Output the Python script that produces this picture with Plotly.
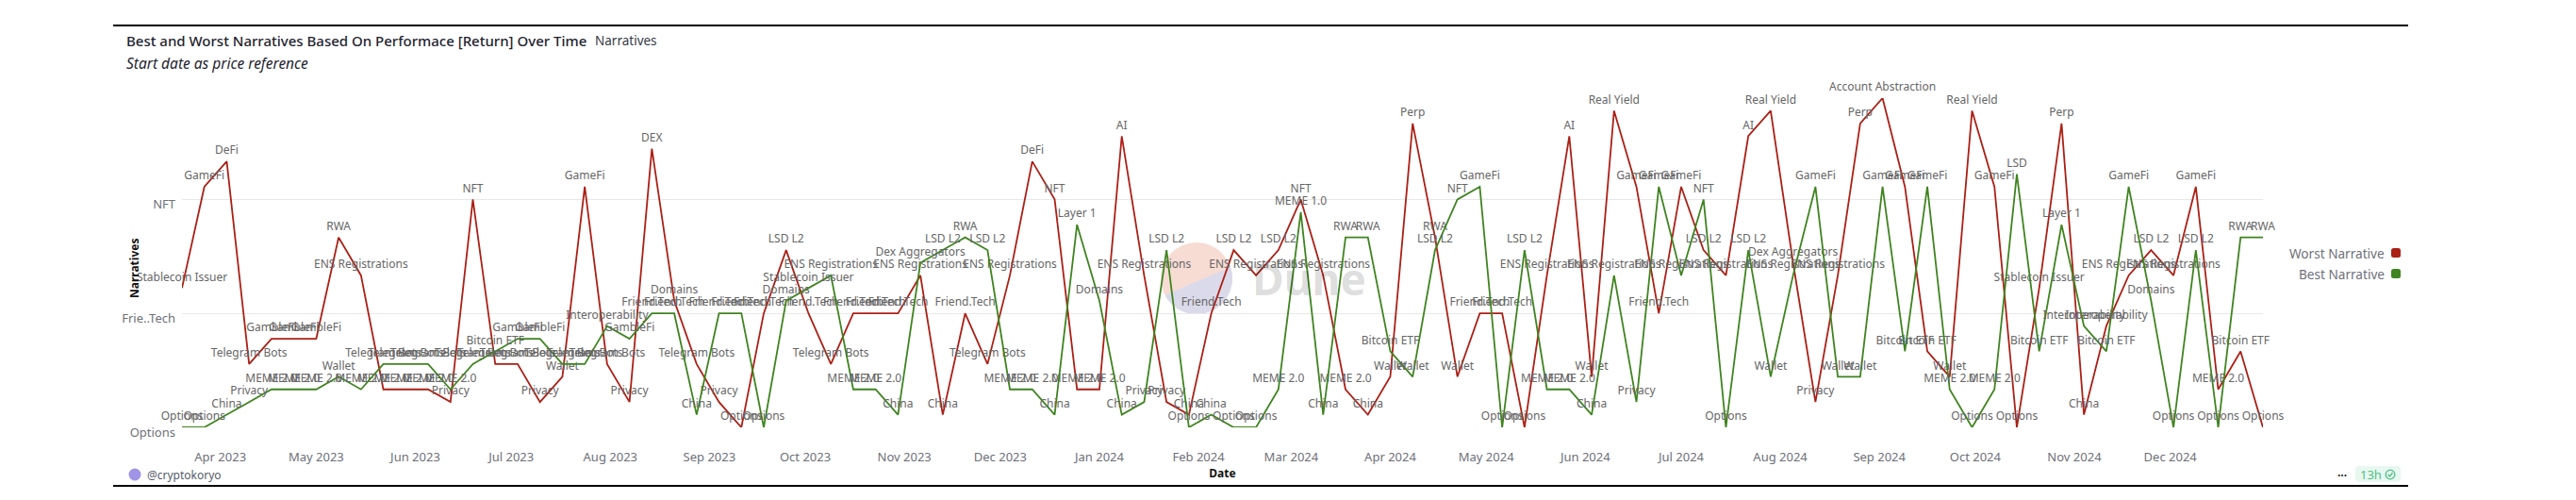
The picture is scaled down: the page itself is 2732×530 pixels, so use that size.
import math
import pandas as pd
import plotly.graph_objects as go

W, H = 2732, 530
L, R, T, B = 193, 2400, 104, 453

title_main = "Best and Worst Narratives Based On Performace [Return] Over Time"
title_tag = "Narratives"
subtitle = "Start date as price reference"
start_date = "2023-03-20"

narrative_order = [
    "Options", "China", "Privacy", "MEME 2.0", "Wallet", "Telegram Bots", "Bitcoin ETF",
    "GambleFi", "Interoperability", "Friend.Tech", "Domains", "Stablecoin Issuer",
    "ENS Registrations", "Dex Aggregators", "LSD L2", "RWA", "Layer 1", "MEME 1.0",
    "NFT", "GameFi", "LSD", "DeFi", "DEX", "AI", "Perp", "Real Yield", "Account Abstraction",
]
y_tick_values = ["Options", "Friend.Tech", "NFT"]
y_tick_text = ["Options", "Frie..Tech", "NFT"]

worst_narrative = [
    "Stablecoin Issuer", "GameFi", "DeFi", "Telegram Bots", "GambleFi", "GambleFi", "GambleFi", "RWA",
    "ENS Registrations", "MEME 2.0", "MEME 2.0", "MEME 2.0", "Privacy", "NFT", "Telegram Bots",
    "Telegram Bots", "Privacy", "Wallet", "GameFi", "Telegram Bots", "Privacy", "DEX", "Domains",
    "Telegram Bots", "Privacy", "Options", "Friend.Tech", "LSD L2", "Friend.Tech", "Telegram Bots",
    "Friend.Tech", "Friend.Tech", "Friend.Tech", "ENS Registrations", "China", "Friend.Tech",
    "Telegram Bots", "ENS Registrations", "DeFi", "NFT", "MEME 2.0", "MEME 2.0", "AI",
    "ENS Registrations", "Privacy", "China", "Friend.Tech", "LSD L2", "ENS Registrations", "LSD L2",
    "NFT", "ENS Registrations", "MEME 2.0", "China", "Wallet", "Perp", "RWA", "Wallet", "Friend.Tech",
    "Friend.Tech", "Options", "ENS Registrations", "AI", "Wallet", "Real Yield", "GameFi",
    "Friend.Tech", "GameFi", "LSD L2", "ENS Registrations", "AI", "Real Yield", "Dex Aggregators",
    "Privacy", "ENS Registrations", "Perp", "Account Abstraction", "GameFi", "Bitcoin ETF", "Wallet",
    "Real Yield", "GameFi", "Options", "Stablecoin Issuer", "Perp", "China", "Interoperability",
    "ENS Registrations", "LSD L2", "ENS Registrations", "GameFi", "MEME 2.0", "Bitcoin ETF", "Options",
]
best_narrative = [
    "Options", "Options", "China", "Privacy", "MEME 2.0", "MEME 2.0", "MEME 2.0", "Wallet", "MEME 2.0",
    "Telegram Bots", "Telegram Bots", "Telegram Bots", "MEME 2.0", "Telegram Bots", "Bitcoin ETF",
    "GambleFi", "GambleFi", "Telegram Bots", "Telegram Bots", "Interoperability", "GambleFi",
    "Friend.Tech", "Friend.Tech", "China", "Friend.Tech", "Friend.Tech", "Options", "Domains",
    "Stablecoin Issuer", "ENS Registrations", "MEME 2.0", "MEME 2.0", "China", "Dex Aggregators",
    "LSD L2", "RWA", "LSD L2", "MEME 2.0", "MEME 2.0", "China", "Layer 1", "Domains", "China", "Privacy",
    "LSD L2", "Options", "China", "Options", "Options", "MEME 2.0", "MEME 1.0", "China", "RWA", "RWA",
    "Bitcoin ETF", "Wallet", "LSD L2", "NFT", "GameFi", "Options", "LSD L2", "MEME 2.0", "MEME 2.0",
    "China", "ENS Registrations", "Privacy", "GameFi", "ENS Registrations", "NFT", "Options", "LSD L2",
    "Wallet", "ENS Registrations", "GameFi", "Wallet", "Wallet", "GameFi", "Bitcoin ETF", "GameFi",
    "MEME 2.0", "Options", "MEME 2.0", "LSD", "Bitcoin ETF", "Layer 1", "Interoperability",
    "Bitcoin ETF", "GameFi", "Domains", "Options", "LSD L2", "Options", "RWA", "RWA",
]
dates = pd.date_range(start_date, periods=len(worst_narrative), freq="7D")

RED, GREEN = "#ab2016", "#3f8420"
LABEL, AXIS, INK = "#666666", "#6e7079", "#1f2430"
FONT = "Noto Sans"


def px(x):
    return (x - L) / (R - L)


def py(y):
    return (B - y) / (B - T)


fig = go.Figure()
for name, vals, col in [("Worst Narrative", worst_narrative, RED), ("Best Narrative", best_narrative, GREEN)]:
    fig.add_trace(go.Scatter(
        x=dates, y=vals, name=name, mode="lines+markers+text", text=vals,
        textposition="top center", cliponaxis=False, showlegend=False,
        textfont=dict(family=FONT, size=12, color=LABEL),
        line=dict(color=col, width=1.8, shape="linear"),
        marker=dict(size=6, color=col, opacity=0),
    ))

shapes = []
annots = []


def txt(x, y, s, size=12, color=INK, xa="left", ya="middle", weight=None, **kw):
    f = dict(family=FONT, size=size, color=color)
    if weight:
        f["weight"] = weight
    annots.append(dict(xref="paper", yref="paper", x=px(x), y=py(y), text=s, showarrow=False,
                       xanchor=xa, yanchor=ya, font=f, borderpad=0, **kw))


def rect(x0, y0, x1, y1, col, **kw):
    shapes.append(dict(type="rect", xref="paper", yref="paper", x0=px(x0), x1=px(x1), y0=py(y0), y1=py(y1),
                       fillcolor=col, line=dict(width=0), **kw))


def round_rect(x0, y0, x1, y1, rad, col):
    p = (f"M {px(x0 + rad)},{py(y0)} L {px(x1 - rad)},{py(y0)} Q {px(x1)},{py(y0)} {px(x1)},{py(y0 + rad)} "
         f"L {px(x1)},{py(y1 - rad)} Q {px(x1)},{py(y1)} {px(x1 - rad)},{py(y1)} "
         f"L {px(x0 + rad)},{py(y1)} Q {px(x0)},{py(y1)} {px(x0)},{py(y1 - rad)} "
         f"L {px(x0)},{py(y0 + rad)} Q {px(x0)},{py(y0)} {px(x0 + rad)},{py(y0)} Z")
    shapes.append(dict(type="path", xref="paper", yref="paper", path=p, fillcolor=col, line=dict(width=0)))


def circle(cx, cy, r, fill, line=None, layer="above"):
    shapes.append(dict(type="circle", xref="paper", yref="paper", x0=px(cx - r), x1=px(cx + r),
                       y0=py(cy + r), y1=py(cy - r), fillcolor=fill, layer=layer,
                       line=dict(width=1.3, color=line) if line else dict(width=0)))


# frame rules
rect(120, 26, 2554, 28, "#000000")
rect(120, 514, 2554, 516, "#000000")

# header
txt(133, 43, title_main, size=15, weight=500)
txt(630, 43, title_tag, size=13.5, color="#333a45")
txt(133, 67, "<i>" + subtitle + "</i>", size=15.5)

# Dune watermark
cx, cy, r = 1269, 295, 38
circle(cx, cy, r, "#f7dcd4", layer="below")
pts = []
for k in range(0, 41):
    a = math.radians(-18 + k * 170 / 40)
    pts.append((cx + r * math.cos(a), cy + r * math.sin(a)))
path = "M " + " L ".join(f"{px(a):.5f},{py(b):.5f}" for a, b in pts) + " Z"
shapes.append(dict(type="path", xref="paper", yref="paper", path=path, fillcolor="#dadaea",
                   line=dict(width=0), layer="below"))
annots.append(dict(xref="paper", yref="paper", x=px(1326), y=py(295), text="<b>Dune</b>", showarrow=False,
                   xanchor="left", yanchor="middle", font=dict(family=FONT, size=46, color="rgba(0,0,0,0.14)")))

# y axis title, placed where the reference has it (over the tick labels)
txt(142, 285, "<b>Narratives</b>", size=12, color="#111111", xa="center", textangle=-90)

# legend
for y, name, col in [(268, "Worst Narrative", RED), (290, "Best Narrative", GREEN)]:
    txt(2530, y, name, size=13.6, color=AXIS, xa="right")
    round_rect(2536, y - 5, 2546, y + 5, 2.5, col)

# footer
circle(143, 503, 6.5, "#a094e6")
txt(155, 503, "@cryptokoryo", size=12, color="#555c68")
txt(2484, 503, "<b>···</b>", size=12, color="#222222", xa="center")
round_rect(2498, 494, 2546, 511, 4, "#e8f8f0")
txt(2502, 503, "13h", size=13, color="#4fbf87")
circle(2535, 503, 4.8, "rgba(0,0,0,0)", line="#4fbf87")
shapes.append(dict(type="path", xref="paper", yref="paper",
                   path=f"M {px(2532.5)},{py(503)} L {px(2534.5)},{py(505)} L {px(2537.5)},{py(501)}",
                   line=dict(width=1.3, color="#4fbf87")))

fig.update_layout(
    width=W, height=H, paper_bgcolor="white", plot_bgcolor="white",
    margin=dict(l=L, r=W - R, t=T, b=H - B, pad=0),
    font=dict(family=FONT, size=12, color=AXIS),
    shapes=shapes, annotations=annots, showlegend=False,
    xaxis=dict(type="date", range=[dates[0], dates[-1]], tick0="2023-04-01", dtick="M1", tickformat="%b %Y",
               showgrid=False, zeroline=False, showline=False, ticks="", ticklabelstandoff=22,
               tickfont=dict(family=FONT, size=13, color=AXIS),
               title=dict(text="<b>Date</b>", font=dict(family=FONT, size=12, color="#111111"), standoff=2)),
    yaxis=dict(type="category", categoryorder="array", categoryarray=narrative_order,
               tickmode="array", tickvals=y_tick_values, ticktext=y_tick_text,
               range=[0, len(narrative_order) - 1], showgrid=True, gridcolor="#e8e8e8", gridwidth=1,
               zeroline=False, showline=False, ticks="", ticklabelshift=5, ticklabelstandoff=6,
               tickfont=dict(family=FONT, size=13, color=AXIS)),
)
fig.write_html("out.html", config=dict(displayModeBar=False), post_script="document.body.style.margin='0';")
